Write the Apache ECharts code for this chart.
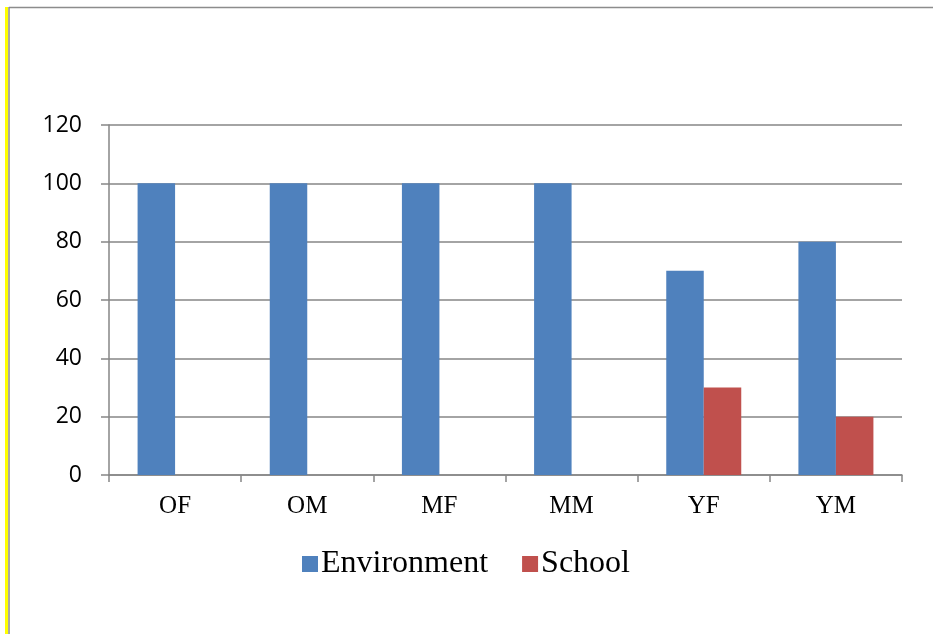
<!DOCTYPE html>
<html><head><meta charset="utf-8">
<script src="https://cdn.jsdelivr.net/npm/echarts@6/dist/echarts.min.js"></script>
<style>html,body{margin:0;padding:0;background:#fff}#c{width:933px;height:634px}</style>
</head><body><div id="c"></div>
<script>
const categories = ['OF','OM','MF','MM','YF','YM'];
const environment = [100,100,100,100,70,80];
const school = [0,0,0,0,30,20];
const seriesNames = ['Environment','School'];

const chart = echarts.init(document.getElementById('c'));
const axisGray = '#868686';
chart.setOption({
  animation:false,
  backgroundColor:'#fff',
  graphic:[
    {type:'line',shape:{x1:6.5,y1:7,x2:6.5,y2:634},style:{stroke:'#ffff00',lineWidth:3}},
    {type:'line',shape:{x1:9,y1:7,x2:9,y2:634},style:{stroke:'#8c8c8c',lineWidth:1.5}},
    {type:'line',shape:{x1:9,y1:7.5,x2:933,y2:7.5},style:{stroke:'#8c8c8c',lineWidth:1.5}}
  ],
  grid:{left:109,right:31,top:125,bottom:159},
  legend:{
    left:297,top:543,itemWidth:16,itemHeight:16,itemGap:34,icon:'rect',
    textStyle:{fontFamily:'Liberation Serif',fontSize:32,color:'#000',padding:[0,0,0,-2]},
    data:seriesNames
  },
  xAxis:{
    type:'category',data:categories,
    axisLine:{lineStyle:{color:axisGray,width:1.5}},
    axisTick:{show:true,length:7,lineStyle:{color:axisGray,width:1.5}},
    axisLabel:{fontFamily:'Liberation Serif',fontSize:25,color:'#000',margin:19}
  },
  yAxis:{
    type:'value',min:0,max:120,interval:20,
    axisLine:{show:true,lineStyle:{color:axisGray,width:1.5}},
    axisTick:{show:true,length:8,lineStyle:{color:axisGray,width:1.5}},
    axisLabel:{fontFamily:'Open Sans',fontSize:23,color:'#000',margin:27},
    splitLine:{lineStyle:{color:axisGray,width:1.5}}
  },
  series:[
    {name:seriesNames[0],type:'bar',data:environment,barWidth:37.5,barGap:'0%',itemStyle:{color:'#4f81bd'}},
    {name:seriesNames[1],type:'bar',data:school,barWidth:37.5,itemStyle:{color:'#c0504d'}}
  ]
});
</script></body></html>
